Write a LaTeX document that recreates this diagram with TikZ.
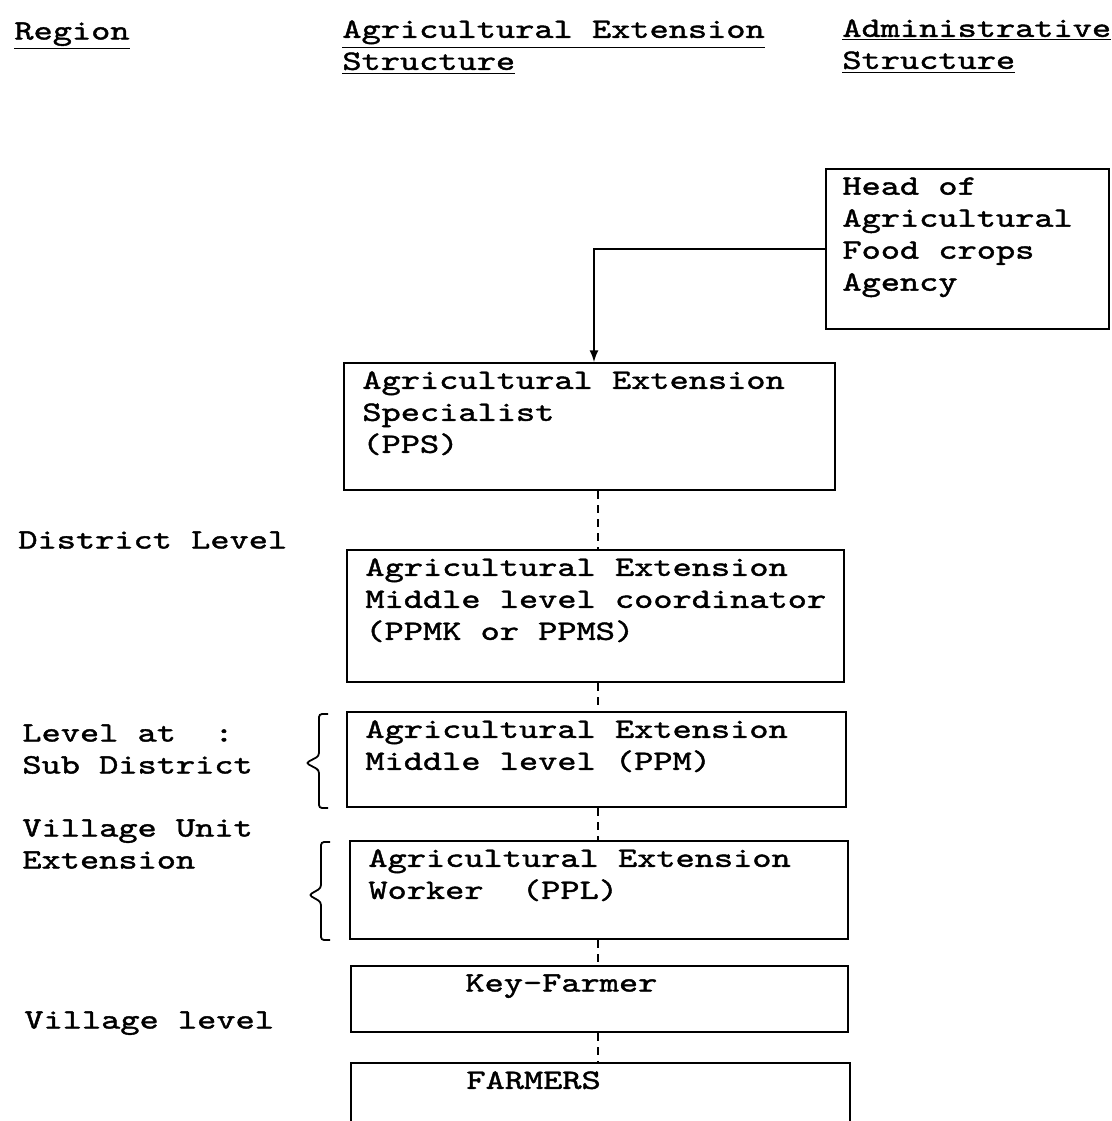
\documentclass[tikz,border=0pt]{standalone}
\usepackage{fontspec}
\usetikzlibrary{positioning,arrows.meta}
\newfontfamily\typewriterfont{lmmono10-regular.otf}[FakeStretch=1.306,FakeBold=1.5]
\newcommand\typed{\typewriterfont\fontsize{14}{16}\selectfont}

\begin{document}
\begin{tikzpicture}[x=0.5pt,y=-0.5pt,
    every node/.style={font=\typed, inner sep=0pt},
    unit/.style={draw, line width=1pt, anchor=north west},
    inside/.style={anchor=north west, align=left, xshift=9.5pt, yshift=-4.5pt},
    side/.style={anchor=north west, align=left},
    link/.style={line width=0.8pt, dash pattern=on 4pt off 3pt},
    bracket/.style={line width=0.9pt, rounded corners=1.5pt}]
    \useasboundingbox (0,0) rectangle (1112,1121);
    \clip (0,0) rectangle (1112,1121);
    % column headings
    \node[side] (hregion) at (14,22) {\underline{Region}};
    \node[side] (hext) at (342,20) {\underline{Agricultural Extension}\\\underline{Structure}};
    \node[side] (hadm) at (842,19) {\underline{Administrative}\\\underline{Structure}};
    % boxes
    \node[unit, minimum width=141.5pt, minimum height=80pt,
        label={[inside, xshift=-1pt]north west:Head of\\Agricultural\\Food crops\\Agency}] (head) at (825,168) {};
    \node[unit, minimum width=245.5pt, minimum height=63.5pt,
        label={[inside]north west:Agricultural Extension\\Specialist\\(PPS)}] (pps) at (343,362) {};
    \node[unit, minimum width=248.5pt, minimum height=66pt,
        label={[inside]north west:Agricultural Extension\\Middle level coordinator\\(PPMK or PPMS)}] (ppmk) at (346,549) {};
    \node[unit, minimum width=249.5pt, minimum height=47.5pt,
        label={[inside]north west:Agricultural Extension\\Middle level (PPM)}] (ppm) at (346,711) {};
    \node[unit, minimum width=249pt, minimum height=49pt,
        label={[inside]north west:Agricultural Extension\\Worker\ \ (PPL)}] (ppl) at (349,840) {};
    \node[unit, minimum width=248.5pt, minimum height=33pt,
        label={[inside, xshift=48pt]north west:Key-Farmer}] (key) at (350,965) {};
    \node[unit, minimum width=249.5pt, minimum height=100pt,
        label={[inside, xshift=48.5pt]north west:FARMERS}] (farmers) at (350,1062) {};
    % region levels
    \node[side] (district) at (18,531) {District Level};
    \node[side] (subdist) at (22,724) {Level at\ \ :\\Sub District};
    \node[side] (village) at (22,819) {Village Unit\\Extension};
    \node[side] (vlevel) at (24,1011) {Village level};
    % connectors
    \coordinate (drop) at (594,0);
    \coordinate (spine) at (598,0);
    \draw[-latex, line width=1pt] (head.west) -| (drop |- pps.north);
    \draw[link] (spine |- pps.south) -- (spine |- ppmk.north);
    \draw[link] (spine |- ppmk.south) -- (spine |- ppm.north);
    \draw[link] (spine |- ppm.south) -- (spine |- ppl.north);
    \draw[link] (spine |- ppl.south) -- (spine |- key.north);
    \draw[link] (spine |- key.south) -- (spine |- farmers.north);
    % braces
    \draw[bracket] ([xshift=-9pt]ppm.south west) -- ++(-9,0) -- ++(0,-38)
        -- ++(-13,-7) -- ++(13,-7) -- ++(0,-42) -- ++(9,0);
    \draw[bracket] ([xshift=-9.5pt]ppl.south west) -- ++(-9,0) -- ++(0,-38)
        -- ++(-12,-7) -- ++(12,-7) -- ++(0,-46) -- ++(9,0);
\end{tikzpicture}
\end{document}
